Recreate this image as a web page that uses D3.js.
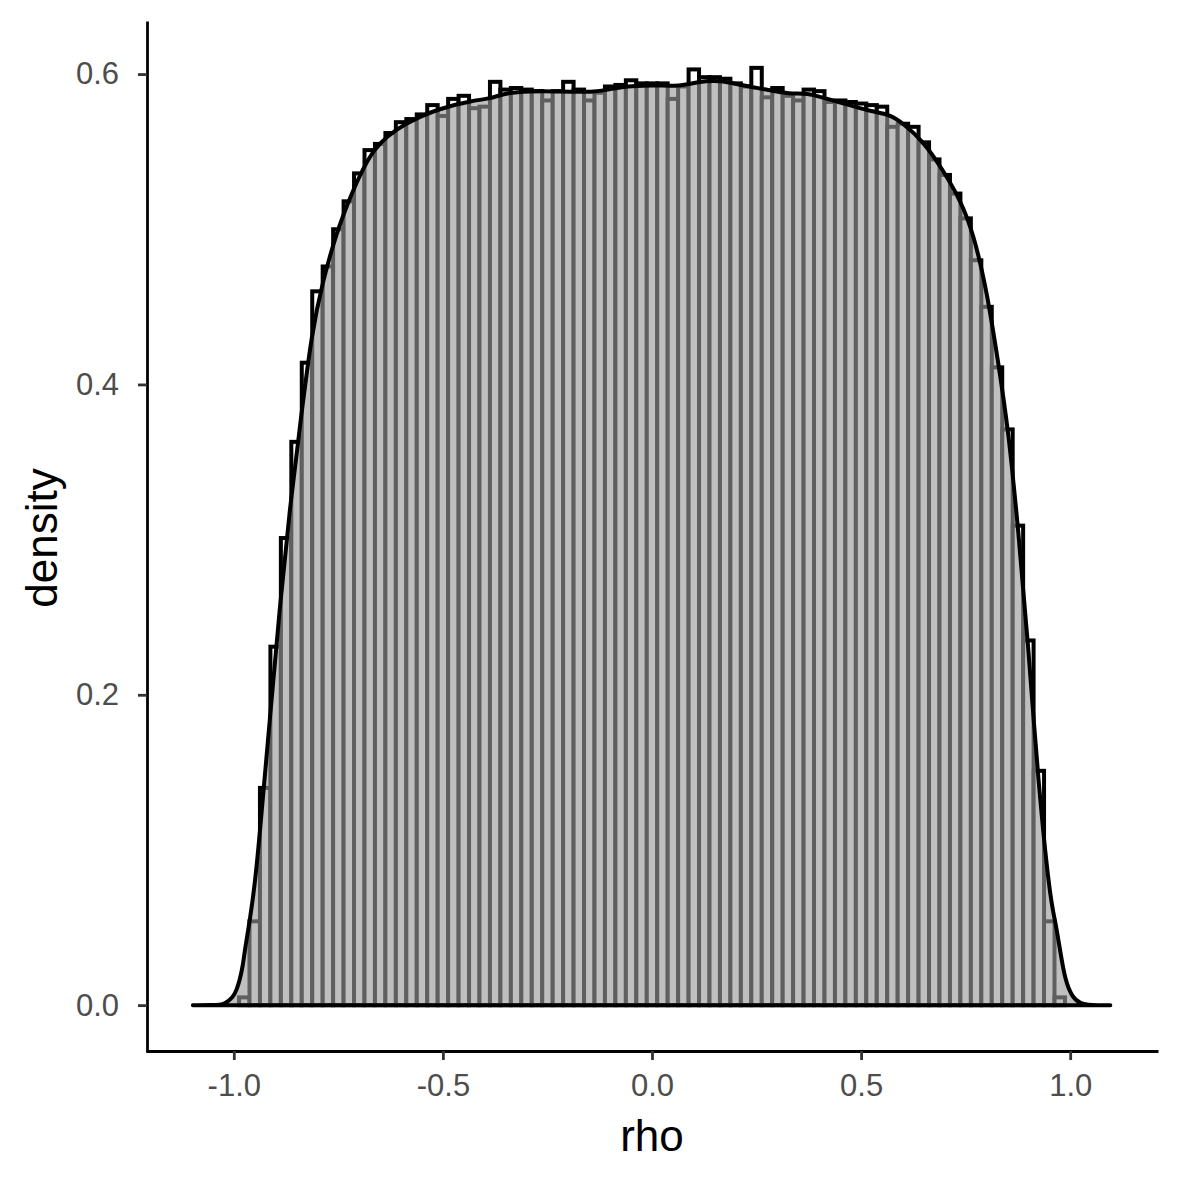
<!DOCTYPE html>
<html lang="en">
    <head>
        <meta charset="utf-8">
        <title>rho density histogram</title>
        <script src="https://d3js.org/d3.v7.min.js"></script>
        <style type="text/css">
            body { margin: 0; background: #fff; }
            text { font-family: "Liberation Sans", Arial, sans-serif; }
        </style>
    </head>
    <body>
        <script type="text/javascript">

            const svgW = 1181;
            const svgH = 1181;

            // histogram bins (width 0.025), bin centres and density heights
            const binWidth = 0.025;
            const binMids = [
                -0.975, -0.95, -0.925, -0.9, -0.875, -0.85, -0.825, -0.8, -0.775, -0.75,
                -0.725, -0.7, -0.675, -0.65, -0.625, -0.6, -0.575, -0.55, -0.525, -0.5,
                -0.475, -0.45, -0.425, -0.4, -0.375, -0.35, -0.325, -0.3, -0.275, -0.25,
                -0.225, -0.2, -0.175, -0.15, -0.125, -0.1, -0.075, -0.05, -0.025, 0,
                0.025, 0.05, 0.075, 0.1, 0.125, 0.15, 0.175, 0.2, 0.225, 0.25,
                0.275, 0.3, 0.325, 0.35, 0.375, 0.4, 0.425, 0.45, 0.475, 0.5,
                0.525, 0.55, 0.575, 0.6, 0.625, 0.65, 0.675, 0.7, 0.725, 0.75,
                0.775, 0.8, 0.825, 0.85, 0.875, 0.9, 0.925, 0.95, 0.975
            ];
            const binDensity = [
                0.005, 0.054, 0.140, 0.231, 0.301, 0.363, 0.414, 0.460, 0.476, 0.500,
                0.518, 0.536, 0.551, 0.555, 0.562, 0.569, 0.571, 0.574, 0.580, 0.573,
                0.584, 0.586, 0.578, 0.579, 0.595, 0.590, 0.591, 0.590, 0.589, 0.583,
                0.589, 0.595, 0.590, 0.583, 0.588, 0.592, 0.593, 0.596, 0.594, 0.594,
                0.594, 0.584, 0.592, 0.603, 0.598, 0.598, 0.597, 0.594, 0.592, 0.604,
                0.585, 0.591, 0.586, 0.583, 0.590, 0.589, 0.582, 0.583, 0.582, 0.581,
                0.580, 0.579, 0.566, 0.568, 0.566, 0.556, 0.545, 0.535, 0.523, 0.507,
                0.480, 0.450, 0.411, 0.371, 0.309, 0.235, 0.151, 0.054, 0.005
            ];

            // kernel density curve
            const densRho = [
                -1.098, -1.05, -1.034, -1.022, -1.002, -0.993, -0.986, -0.978, -0.974, -0.962,
                -0.950, -0.938, -0.914, -0.890, -0.866, -0.840, -0.814, -0.787, -0.754, -0.723,
                -0.668, -0.587, -0.507, -0.428, -0.388, -0.348, -0.292, -0.237, -0.132, -0.077,
                0.002, 0.067, 0.108, 0.163, 0.211, 0.274, 0.330, 0.370, 0.418, 0.474,
                0.522, 0.569, 0.601, 0.648, 0.696, 0.737, 0.768, 0.801, 0.828, 0.852,
                0.876, 0.900, 0.923, 0.952, 0.964, 0.976, 0.988, 1.005, 1.024, 1.048, 1.096
            ];
            const densValue = [
                0, 0, 0.0003, 0.0008, 0.005, 0.010, 0.016, 0.026, 0.035, 0.054,
                0.077, 0.110, 0.184, 0.257, 0.321, 0.377, 0.433, 0.467, 0.498, 0.520,
                0.554, 0.569, 0.578, 0.583, 0.584, 0.588, 0.589, 0.589, 0.588, 0.592,
                0.593, 0.592, 0.595, 0.596, 0.593, 0.590, 0.587, 0.588, 0.584, 0.580,
                0.576, 0.574, 0.568, 0.557, 0.538, 0.519, 0.498, 0.460, 0.414, 0.371,
                0.306, 0.231, 0.145, 0.068, 0.055, 0.035, 0.016, 0.005, 0.001, 0, 0
            ];

            const xTicks = [-1.0, -0.5, 0.0, 0.5, 1.0];
            const yTicks = [0.0, 0.2, 0.4, 0.6];

            const xScale = d3.scaleLinear()
                             .domain([-1.21, 1.21])
                             .range([146, 1158]);

            const yMax = d3.max(binDensity);
            const yScale = d3.scaleLinear()
                             .domain([-0.05 * yMax, yMax * 1.05])
                             .range([1052, 21]);

            const svg = d3.select("body")
                    .append("svg")
                    .attr("width", svgW)
                    .attr("height", svgH);

            // histogram: white bars, black outline
            svg.append("g")
               .selectAll("rect")
               .data(binMids)
               .enter()
               .append("rect")
               .attr("x", d => xScale(d - binWidth / 2))
               .attr("width", d => xScale(d + binWidth / 2) - xScale(d - binWidth / 2))
               .attr("y", (d, i) => yScale(binDensity[i]))
               .attr("height", (d, i) => yScale(0) - yScale(binDensity[i]))
               .attr("fill", "white")
               .attr("stroke", "black")
               .attr("stroke-width", 4);

            // density: semi transparent grey fill with black outline
            const dens = densRho.map((r, i) => [r, densValue[i]]);
            const area = d3.area()
                           .x(d => xScale(d[0]))
                           .y0(yScale(0))
                           .y1(d => yScale(d[1]))
                           .curve(d3.curveBasis);

            svg.append("path")
               .datum(dens)
               .attr("d", area)
               .attr("fill", "#999999")
               .attr("fill-opacity", 0.625)
               .attr("stroke", "black")
               .attr("stroke-width", 4)
               .attr("stroke-linejoin", "round");

            // axes
            const bottomAxis = d3.axisBottom(xScale)
                                 .tickValues(xTicks)
                                 .tickFormat(d => d.toFixed(1))
                                 .tickSizeInner(9)
                                 .tickSizeOuter(0)
                                 .tickPadding(14);

            const gx = svg.append("g")
                          .attr("transform", "translate(0,1051)")
                          .call(bottomAxis);

            const leftAxis = d3.axisLeft(yScale)
                               .tickValues(yTicks)
                               .tickFormat(d => d.toFixed(1))
                               .tickSizeInner(9)
                               .tickSizeOuter(0)
                               .tickPadding(19);

            const gy = svg.append("g")
                          .attr("transform", "translate(147,0)")
                          .call(leftAxis);

            [gx, gy].forEach(g => {
                g.select(".domain").attr("stroke", "black").attr("stroke-width", 2.8);
                g.selectAll(".tick line").attr("stroke", "#333333").attr("stroke-width", 2.8);
                g.selectAll(".tick text")
                 .attr("fill", "#4d4d4d")
                 .style("font-size", "31px")
                 .style("font-family", "'Liberation Sans', Arial, sans-serif");
            });

            svg.append("text")
               .attr("x", 652)
               .attr("y", 1151)
               .attr("text-anchor", "middle")
               .style("font-size", "44px")
               .text("rho");

            svg.append("text")
               .attr("transform", "translate(57,538) rotate(-90)")
               .attr("text-anchor", "middle")
               .style("font-size", "44px")
               .text("density");

        </script>
    </body>
</html>
